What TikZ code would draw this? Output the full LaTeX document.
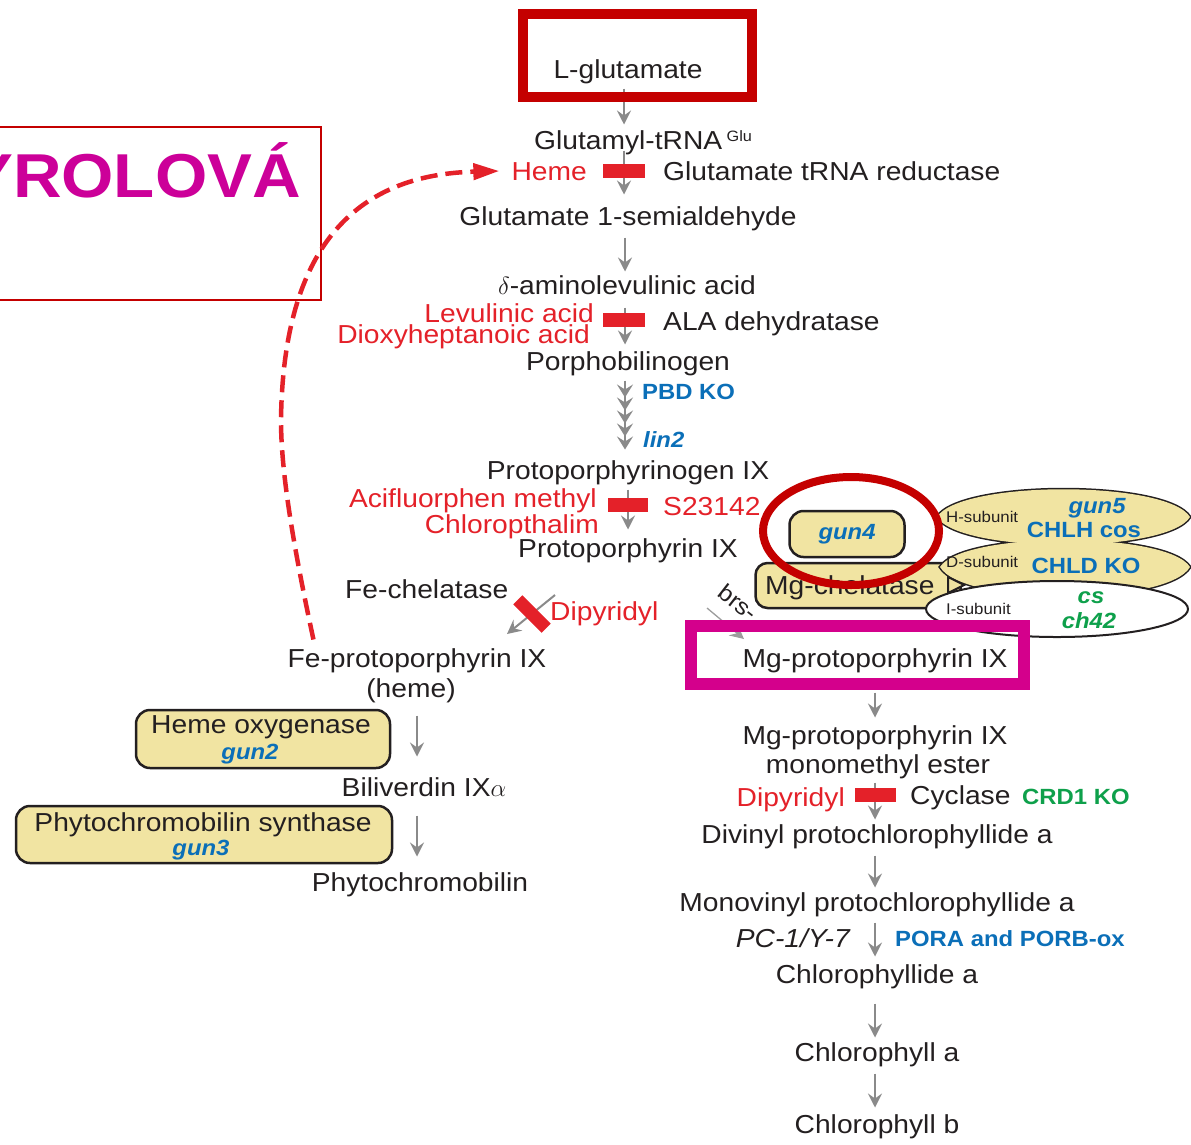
\documentclass[tikz,border=0pt]{standalone}
\usepackage{fontspec}
\setmainfont[FakeStretch=1.085]{Liberation Sans}
\usetikzlibrary{arrows.meta,calc,shapes.geometric}
\definecolor{ink}{HTML}{231F20}
\definecolor{redi}{HTML}{E42129}
\definecolor{bluet}{HTML}{0B6FB8}
\definecolor{greent}{HTML}{0EA04B}
\definecolor{yel}{HTML}{F1E4A2}
\definecolor{graya}{HTML}{8A8A8A}
\definecolor{dred}{HTML}{C40000}
\definecolor{magbox}{HTML}{D4008C}
\definecolor{magtxt}{HTML}{CC0099}
\newcommand\fsm{\fontsize{26}{30}\selectfont}
\newcommand\fsb{\fontsize{22}{26}\selectfont\bfseries}
\newcommand\fss{\fontsize{15.5}{18}\selectfont}
\newcommand\stl{Stealth[length=13pt,width=16pt,inset=5pt,sep=0pt]}
\begin{document}
\begin{tikzpicture}[x=1pt,y=-1pt,
  txt/.style={inner sep=0pt,text height=18.6pt,text depth=0pt,font=\fsm,text=ink},
  rtxt/.style={txt,text=redi},
  btxt/.style={inner sep=0pt,text height=15.8pt,text depth=0pt,font=\fsb,text=bluet},
  gtxt/.style={btxt,text=greent},
  stxt/.style={inner sep=0pt,text height=11.1pt,text depth=0pt,font=\fss,text=ink},
  arr/.style={draw=graya,line width=2pt,-{Stealth[length=14pt,width=14pt,inset=5pt]}},
  multi/.style={draw=graya,line width=2pt,-{\stl\stl\stl\stl\stl}},
  bar/.style={fill=redi,inner sep=0pt,minimum width=42pt,minimum height=14pt},
  ybox/.style={draw=ink,fill=yel,line width=2.5pt,rounded corners=14pt,inner sep=0pt},
]
\useasboundingbox (0,0) rectangle (1191,1144);

% title box (partly outside the picture)
\draw[dred,line width=2pt] (-10,127) rectangle (321,300);
\node[inner sep=0pt,anchor=east,text height=44.4pt,text depth=0pt,
  font=\fontsize{62}{68}\selectfont\bfseries,text=magtxt] (title) at (301,175) {YROLOVÁ};

% helper x positions
\coordinate (xa) at (624,0);
\coordinate (xb) at (625,0);
\coordinate (xc) at (628,0);
\coordinate (xm) at (875,0);
\coordinate (xl) at (417,0);

% main column texts
\node[txt] (lglu) at (628,69) {L-glutamate};
\node[txt,anchor=west] (gtrna) at (534,140) {Glutamyl-tRNA\,\raisebox{8pt}{\fontsize{15}{15}\selectfont Glu}};
\node[rtxt,anchor=east] (heme) at (587,171) {Heme};
\node[txt,anchor=west] (gtr) at (663,171) {Glutamate tRNA reductase};
\node[txt] (glusa) at (628,216) {Glutamate 1-semialdehyde};
\node[txt] (ala) at (627,285) {$\delta$-aminolevulinic acid};
\node[rtxt,anchor=east] (lev) at (594,313) {Levulinic acid};
\node[rtxt,anchor=east] (diox) at (590,334) {Dioxyheptanoic acid};
\node[txt,anchor=west] (alad) at (663,321) {ALA dehydratase};
\node[txt] (pbg) at (628,361) {Porphobilinogen};
\node[btxt,anchor=west] (pbd) at (642,392) {PBD KO};
\node[btxt,anchor=west] (lin) at (643,440) {\itshape lin2};
\node[txt] (protogen) at (628,470) {Protoporphyrinogen IX};
\node[rtxt,anchor=east] (aci) at (597,498) {Acifluorphen methyl};
\node[rtxt,anchor=east] (chp) at (599,524) {Chloropthalim};
\node[rtxt,anchor=west] (s23) at (663,506) {S23142};
\node[txt] (proto) at (628,548) {Protoporphyrin IX};

% heme branch
\node[txt,anchor=west] (fech) at (345,589) {Fe-chelatase};
\node[rtxt,anchor=west] (dip1) at (550,611) {Dipyridyl};
\node[txt] (feproto) at (417,658) {Fe-protoporphyrin IX};
\node[txt] (hemep) at (411,688) {(heme)};
\node[ybox,minimum width=254pt,minimum height=58pt] (hox) at (263,739) {};
\node[txt] (hoxt) at (261,724) {Heme oxygenase};
\node[btxt] (gun2) at (250,752) {\itshape gun2};
\node[txt] (bili) at (424,787) {Biliverdin IX$\alpha$};
\node[ybox,minimum width=376pt,minimum height=57pt] (pcs) at (204,834.5) {};
\node[txt] (pcst) at (203,822) {Phytochromobilin synthase};
\node[btxt] (gun3) at (201,848) {\itshape gun3};
\node[txt] (phyto) at (420,882) {Phytochromobilin};

% chlorophyll branch
\node[txt] (mgp) at (875,658) {Mg-protoporphyrin IX};
\node[txt] (mgme1) at (875,735) {Mg-protoporphyrin IX};
\node[txt] (mgme2) at (878,764) {monomethyl ester};
\node[rtxt,anchor=east] (dip2) at (845,797) {Dipyridyl};
\node[txt,anchor=west] (cyc) at (910,795) {Cyclase};
\node[gtxt,anchor=west] (crd) at (1022,797) {CRD1 KO};
\node[txt] (divinyl) at (877,834) {Divinyl protochlorophyllide a};
\node[txt] (mono) at (877,902) {Monovinyl protochlorophyllide a};
\node[txt,anchor=east] (pc1) at (850,938) {\itshape PC-1/Y-7};
\node[btxt,anchor=west] (pora) at (895,939) {PORA and PORB-ox};
\node[txt] (chlide) at (877,974) {Chlorophyllide a};
\node[txt] (chla) at (877,1052) {Chlorophyll a};
\node[txt] (chlb) at (877,1124) {Chlorophyll b};

% arrows of the main column
\draw[arr,shorten <=10pt,shorten >=6pt] (lglu.south -| xa) -- (gtrna.north -| xa);
\draw[arr,shorten <=1pt,shorten >=12pt] (gtrna.south -| xa) -- (glusa.north -| xa);
\draw[arr,shorten <=12pt,shorten >=4pt] (glusa.south -| xb) -- (ala.north -| xb);
\draw[arr,shorten <=13pt,shorten >=7pt] (ala.south -| xb) -- (pbg.north -| xb);
\draw[multi,shorten <=10pt,shorten >=11pt] (pbg.south -| xb) -- (protogen.north -| xb);
\draw[arr,shorten <=10pt,shorten >=9pt] (protogen.south -| xc) -- (proto.north -| xc);
\coordinate (fe0) at (555,595);
\coordinate (fe1) at (507,634);
\draw[arr] (fe0) -- (fe1);
\coordinate (mg0) at (707,608);
\coordinate (mg1) at (744,639);
\draw[arr,line width=1.3pt,draw=graya!85] (mg0) -- (mg1);
\node[txt,font=\fontsize{23}{27}\selectfont,text height=16.5pt,rotate=-38,anchor=west] (brs) at (721,589) {brs-};

\draw[arr,shorten <=25pt,shorten >=8pt] (mgp.south -| xm) -- (mgme1.north -| xm);
\draw[arr,shorten <=9pt,shorten >=5pt] (mgme2.south -| xm) -- (divinyl.north -| xm);
\draw[arr,shorten <=12pt,shorten >=5pt] (divinyl.south -| xm) -- (mono.north -| xm);
\draw[arr,shorten <=11pt,shorten >=8pt] (mono.south -| xm) -- (chlide.north -| xm);
\draw[arr,shorten <=20pt,shorten >=5pt] (chlide.south -| xm) -- (chla.north -| xm);
\draw[arr,shorten <=12pt,shorten >=7pt] (chla.south -| xm) -- (chlb.north -| xm);
\draw[arr,shorten <=18pt,shorten >=21pt] (hemep.south -| xl) -- (bili.north -| xl);
\draw[arr,shorten <=19pt,shorten >=16pt] (bili.south -| xl) -- (phyto.north -| xl);

% inhibitor bars
\node[bar] (bar1) at (624,171) {};
\node[bar] (bar2) at (624,320) {};
\node[bar,minimum width=40pt] (bar3) at (628,505) {};
\node[bar,minimum width=40pt,minimum height=13pt,rotate=-45] (bar4) at (532,614) {};
\node[bar,minimum width=41pt] (bar5) at (875,795) {};

% heme feedback
\draw[redi,line width=4.5pt,dash pattern=on 17pt off 8pt,-{Triangle[length=26pt,width=16pt]}]
  ($(feproto.north west)+(26,-9)$) .. controls (292,540) and (281,470) .. (281,420)
  .. controls (283,260) and (345,175) .. ($(heme.west)+(-12,0)$);

% Mg-chelatase complex
\node[ybox,rounded corners=12pt,minimum width=205pt,minimum height=45pt] (mgch) at (858,585.5) {};
\node[txt,anchor=west] (mgcht) at (765,585) {Mg-chelatase};
\draw[ink,line width=3pt]
  (937,517) .. controls (960,480) and (1167,480) .. (1190,517) .. controls (1167,554) and (960,554) .. (937,517) -- cycle
  (940,567) .. controls (963,531) and (1167,531) .. (1190,567) .. controls (1167,606) and (963,606) .. (940,567) -- cycle;
\fill[yel] (937,517) .. controls (960,480) and (1167,480) .. (1190,517) .. controls (1167,554) and (960,554) .. (937,517) -- cycle;
\fill[yel] (940,567) .. controls (963,531) and (1167,531) .. (1190,567) .. controls (1167,606) and (963,606) .. (940,567) -- cycle;
\draw[ink,line width=2pt,fill=white] (1057,609) ellipse [x radius=131,y radius=28];
\draw[ink,fill=yel,line width=2pt] (948,577) -- (964,585) -- (948,593) -- cycle;
\node[stxt,anchor=west] (hsub) at (946,517) {H-subunit};
\node[btxt] (gun5) at (1097,506) {\itshape gun5};
\node[btxt] (chlh) at (1084,530) {CHLH cos};
\node[stxt,anchor=west] (dsub) at (946,562) {D-subunit};
\node[btxt] (chld) at (1086,566) {CHLD KO};
\node[stxt,anchor=west] (isub) at (946,609) {I-subunit};
\node[gtxt] (cs) at (1091,596) {\itshape cs};
\node[gtxt] (ch42) at (1089,621) {\itshape ch42};
\node[ybox,minimum width=115pt,minimum height=46pt,font=\fsb\itshape,text=bluet] (gun4) at (847,534) {gun4};

% highlight frames
\draw[magbox,line width=12pt] (691,626) rectangle (1024,684);
\draw[dred,line width=10pt] (523,14) rectangle (752,97);
\draw[dred,line width=8pt] (851,531) ellipse [x radius=88,y radius=54];
\end{tikzpicture}
\end{document}
